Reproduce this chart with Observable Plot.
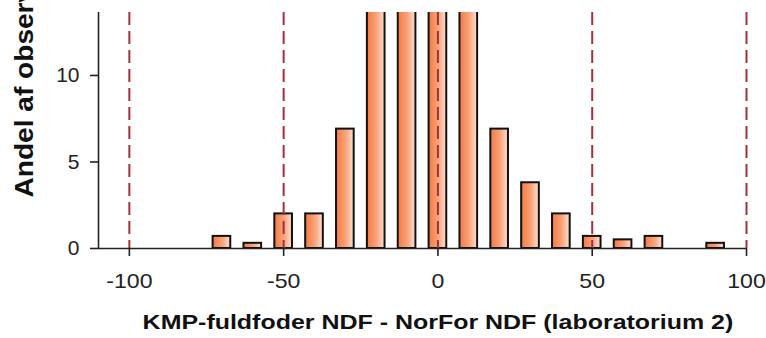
<!DOCTYPE html>
<html><head><meta charset="utf-8">
<script src="https://cdn.jsdelivr.net/npm/d3@7"></script>
<script src="https://cdn.jsdelivr.net/npm/@observablehq/plot@0.6"></script>
<style>html,body{margin:0;padding:0;background:#fff;}</style>
</head><body><div id="chart"></div>
<script>
const binCenters = [-70, -60, -50, -40, -30, -20, -10, 0, 10, 20, 30, 40, 50, 60, 70, 90];
const shares     = [0.7, 0.3, 2.0, 2.0, 6.9, 16, 22, 24, 17, 6.9, 3.8, 2.0, 0.7, 0.5, 0.7, 0.3];
const xTicks = [-100, -50, 0, 50, 100];
const yTicks = [0, 5, 10];
const limitLines = [-100, -50, 0, 50, 100];
const xTitle = "KMP-fuldfoder NDF - NorFor NDF (laboratorium 2)";
const yTitle = "Andel af observationer (%)";
const binWidth = 10;

const data = binCenters.map((c, i) => ({center: c, share: shares[i]}));

const defs = () => {
  const d = d3.create("svg:defs");
  const g = d.append("linearGradient").attr("id", "barGrad").attr("x1", 0).attr("x2", 1).attr("y1", 0).attr("y2", 0);
  g.append("stop").attr("offset", "0%").attr("stop-color", "#f47a40");
  g.append("stop").attr("offset", "55%").attr("stop-color", "#f8a37b");
  g.append("stop").attr("offset", "100%").attr("stop-color", "#fde0d1");
  return d.node();
};

const chart = Plot.plot({
  width: 766,
  height: 338,
  marginTop: 12,
  marginBottom: 90,
  marginLeft: 98,
  marginRight: 20,
  x: {domain: [-110, 100]},
  y: {domain: [0, 13.64]},
  style: {fontFamily: "'Liberation Sans', Arial, sans-serif", fontSize: "21px", color: "#222", background: "#fff"},
  marks: [
    defs,
    Plot.rectY(data, {
      x1: d => d.center - binWidth / 2,
      x2: d => d.center + binWidth / 2,
      y: "share",
      insetLeft: 6.6, insetRight: 6.6,
      fill: "url(#barGrad)", stroke: "#111", strokeWidth: 2, clip: true
    }),
    Plot.ruleX(limitLines, {stroke: "#a2323a", strokeWidth: 2, strokeDasharray: "13,6"}),
    Plot.ruleY([0], {stroke: "#222", strokeWidth: 1.6}),
    Plot.ruleX([-110], {stroke: "#222", strokeWidth: 1.6}),
    Plot.axisX({ticks: xTicks, tickFormat: d => `${d}`, tickSize: 8, tickPadding: 17, label: null, strokeWidth: 1.6}),
    Plot.axisY({ticks: yTicks, tickFormat: d => `${d}`, tickSize: 8, tickPadding: 11, label: null, strokeWidth: 1.6}),
    Plot.text([{label: xTitle, x: (xTicks[0] + xTicks[xTicks.length - 1]) / 2}], {
      x: "x", text: "label", frameAnchor: "bottom", lineAnchor: "top", dy: 67,
      fontWeight: "bold", fontSize: 19.5, fill: "#111"
    }),
    Plot.text([yTitle], {
      text: d => d, frameAnchor: "bottom-left", dx: -66, dy: -51, rotate: -90,
      textAnchor: "start", lineAnchor: "bottom", fontWeight: "bold", fontSize: 26, fill: "#111"
    })
  ]
});

document.getElementById("chart").append(chart);

// horizontal stretch of the reference's text (centre/start anchored texts only)
d3.select(chart).selectAll("text").each(function () {
  const t = this.textContent;
  const group = this.closest("g[aria-label]");
  if (group && /y-axis/.test(group.getAttribute("aria-label"))) return;
  const f = t === xTitle ? 1.28 : t === yTitle ? 1.08 : 1.1;
  const L = this.getComputedTextLength();
  this.setAttribute("textLength", L * f);
  this.setAttribute("lengthAdjust", "spacingAndGlyphs");
});
</script>
</body></html>
